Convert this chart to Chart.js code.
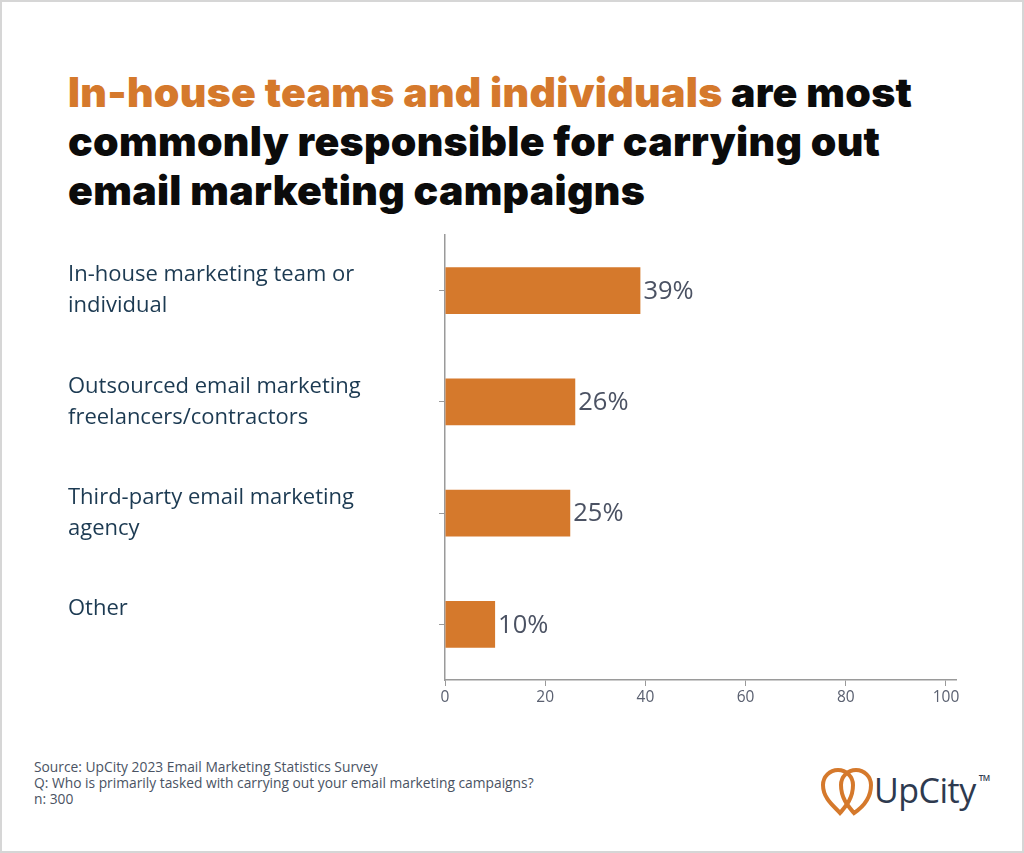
<!DOCTYPE html>
<html>
<head>
<meta charset="utf-8">
<script src="https://cdn.jsdelivr.net/npm/chart.js@4"></script>
<style>
  html, body { margin: 0; padding: 0; background: #fff; }
  #page {
    position: relative; width: 1024px; height: 853px; box-sizing: border-box;
    border: 2px solid #d6d6d6; background: #fff; overflow: hidden;
  }
  #title {
    position: absolute; left: 66px; top: 66px; margin: 0;
    font-family: Inter, sans-serif; font-weight: 900; font-size: 41px; line-height: 49px;
    color: #0b0b0b; letter-spacing: 0.3px;
  }
  #title .hl { color: #d5792c; }
  #chartBox { position: absolute; left: 66px; top: 221px; width: 900px; height: 487px; }
  #footer {
    position: absolute; left: 32px; top: 757px; font-family: "Open Sans", sans-serif;
    font-size: 13.8px; line-height: 16px; color: #4a5363;
  }
  #logo { position: absolute; left: 816px; top: 764px; }
  #logo .word {
    position: absolute; left: 56px; top: 1px; font-family: "Open Sans", sans-serif;
    font-size: 34px; font-weight: 500; color: #2e3a4f; letter-spacing: -0.5px; white-space: nowrap;
  }
  #logo .tm { font-size: 8px; vertical-align: 22px; font-weight: 600; margin-left: 3px; }
</style>
</head>
<body>
<div id="page">
  <h1 id="title"><span class="hl">In-house teams and individuals</span> are most<br>commonly responsible for carrying out<br>email marketing campaigns</h1>
  <div id="chartBox"><canvas id="chart"></canvas></div>
  <div id="footer">
    Source: UpCity 2023 Email Marketing Statistics Survey<br>
    Q: Who is primarily tasked with carrying out your email marketing campaigns?<br>
    n: 300
  </div>
  <div id="logo">
    <svg width="60" height="52" viewBox="0 0 60 52">
      <path d="M22 47 C17 41 5 33 5 19 A15 15 0 0 1 35 19 C35 33 27 41 22 47 Z" fill="none" stroke="#d5792c" stroke-width="4"/>
      <path d="M36 47 C31 41 23 33 23 19 A15 15 0 0 1 53 19 C53 33 45 41 36 47 Z" fill="none" stroke="#d5792c" stroke-width="4"/>
    </svg>
    <div class="word">UpCity<span class="tm">TM</span></div>
  </div>
</div>
<script>
const categories = [
  ['In-house marketing team or', 'individual'],
  ['Outsourced email marketing', 'freelancers/contractors'],
  ['Third-party email marketing', 'agency'],
  ['Other', '']
];
const shares = [39, 26, 25, 10];
const xTicks = [0, 20, 40, 60, 80, 100];

const barColor = '#d5792c';
const axisColor = '#9a9a9a';

const valueLabels = {
  id: 'valueLabels',
  afterDatasetsDraw(chart) {
    const ctx = chart.ctx;
    const meta = chart.getDatasetMeta(0);
    ctx.save();
    ctx.font = '25.5px "Open Sans", sans-serif';
    ctx.fillStyle = '#4b5263';
    ctx.textBaseline = 'middle';
    ctx.textAlign = 'left';
    meta.data.forEach((bar, i) => {
      ctx.fillText(shares[i] + '%', bar.x + 3, bar.y + 1);
    });
    ctx.restore();
  }
};

new Chart(document.getElementById('chart'), {
  type: 'bar',
  data: {
    labels: categories,
    datasets: [{
      data: shares,
      backgroundColor: barColor,
      borderWidth: 0,
      categoryPercentage: 1,
      barPercentage: 0.42
    }]
  },
  options: {
    indexAxis: 'y',
    responsive: true,
    maintainAspectRatio: false,
    animation: false,
    layout: { padding: { top: 12, right: 12, bottom: 0, left: 0 } },
    plugins: { legend: { display: false }, tooltip: { enabled: false } },
    scales: {
      x: {
        min: 0,
        max: 102,
        afterBuildTicks: (scale) => { scale.ticks = xTicks.map(v => ({ value: v })); },
        afterFit: (scale) => { scale.height = 30; },
        ticks: { color: '#5a6070', font: { family: 'Open Sans', size: 15.5 }, padding: 2 },
        grid: { drawOnChartArea: false, drawTicks: true, tickLength: 6, color: axisColor },
        border: { color: axisColor, width: 1.5 }
      },
      y: {
        afterFit: (scale) => {
          scale.width = 377;
          scale.paddingTop = 0;
          scale.paddingBottom = 0;
        },
        ticks: {
          crossAlign: 'far',
          color: '#1c3a52',
          font: { family: 'Open Sans', size: 22, lineHeight: 1.4 }
        },
        grid: { drawOnChartArea: false, drawTicks: true, tickLength: 6, offset: false, color: axisColor },
        border: { color: axisColor, width: 1.5 }
      }
    }
  },
  plugins: [valueLabels]
});
</script>
</body>
</html>
